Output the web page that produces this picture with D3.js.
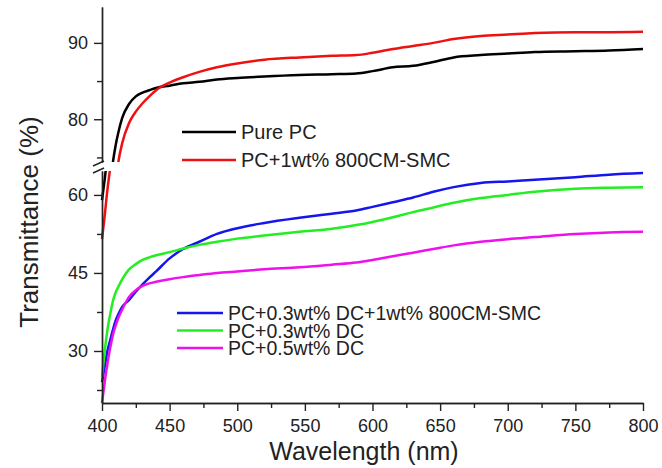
<!DOCTYPE html>
<html>
<head>
<meta charset="utf-8">
<script src="https://cdn.jsdelivr.net/npm/d3@7"></script>
<style>
  body { margin: 0; background: #fff; }
  svg { display: block; font-family: "Liberation Sans", Arial, sans-serif; }
  .axis path, .axis line { stroke: #222; stroke-width: 1.4px; }
  .axis text { fill: #222; font-size: 18px; font-family: "Liberation Sans", Arial, sans-serif; }
  .curve { fill: none; stroke-width: 2.5px; stroke-linejoin: round; }
</style>
</head>
<body>
<div id="chart"></div>
<script>
// wavelength samples (nm)
const wavelength = [400, 402, 404, 406, 408, 410, 412, 415, 420, 425, 430, 435, 440, 450, 460, 472, 485,
  500, 520, 546, 570, 588, 600, 615, 630, 645, 660, 680, 700, 720, 750, 775, 800];

// transmittance (%) per sample
const purePC = [59, 63, 67.5, 71.5, 74.3, 76.5, 78.2, 80.2, 82, 83, 83.5, 83.8, 84.1, 84.4, 84.7, 84.9, 85.2,
  85.4, 85.6, 85.8, 85.9, 86.0, 86.3, 86.8, 87.0, 87.5, 88.1, 88.4, 88.6, 88.8, 88.9, 89.0, 89.2];
const pcSmc = [51.5, 56, 61, 65, 68.5, 71.5, 74.3, 76.9, 79.5, 81.0, 82.1, 83.0, 83.8, 84.8, 85.5, 86.2, 86.8,
  87.3, 87.8, 88.1, 88.3, 88.4, 88.7, 89.2, 89.6, 90.0, 90.5, 90.9, 91.1, 91.3, 91.4, 91.4, 91.45];
const pcDcSmc = [24, 27, 30, 32, 34, 35.8, 37, 38.5, 39.8, 41.4, 42.8, 44.1, 45.3, 47.8, 49.6, 51, 52.5,
  53.6, 54.6, 55.6, 56.4, 57.0, 57.7, 58.6, 59.5, 60.6, 61.5, 62.3, 62.6, 62.9, 63.4, 63.9, 64.2];
const pcDc03 = [25, 30, 34, 37, 39.5, 41.2, 42.3, 43.8, 45.7, 46.7, 47.5, 48, 48.4, 49, 49.7, 50.4, 51,
  51.6, 52.2, 52.9, 53.5, 54.2, 54.8, 55.7, 56.7, 57.6, 58.5, 59.4, 60, 60.6, 61.2, 61.4, 61.5];
const pcDc05 = [20, 24, 27.5, 30.5, 33, 34.8, 36.3, 38, 40.4, 41.7, 42.5, 43, 43.3, 43.8, 44.2, 44.6, 45,
  45.3, 45.7, 46.1, 46.6, 47.0, 47.5, 48.2, 48.9, 49.6, 50.3, 51, 51.5, 51.9, 52.5, 52.8, 52.9];

const xTicks = [400, 450, 500, 550, 600, 650, 700, 750, 800];
const yUpperTicks = [80, 90];
const yLowerTicks = [30, 45, 60];

const upperSeries = [
  { name: "Pure PC", color: "#000000", values: purePC },
  { name: "PC+1wt% 800CM-SMC", color: "#ee1111", values: pcSmc }
];
const lowerSeries = [
  { name: "PC+0.3wt% DC+1wt% 800CM-SMC", color: "#1515ee", values: pcDcSmc },
  { name: "PC+0.3wt% DC", color: "#22ee22", values: pcDc03 },
  { name: "PC+0.5wt% DC", color: "#ee11ee", values: pcDc05 }
];
const allSeries = upperSeries.concat(lowerSeries);

const width = 662, height = 468;
const left = 102, right = 643;
const upTop = 7, upBottom = 162;    // upper segment of the broken axis
const loTop = 171, loBottom = 403;  // lower segment

const svg = d3.select("#chart").append("svg")
  .attr("width", width)
  .attr("height", height);

const x = d3.scaleLinear().domain([400, 800]).range([left, right]);
const yUp = d3.scaleLinear().domain([74.4, 94.7]).range([upBottom, upTop]);
const yLo = d3.scaleLinear().domain([20, 64.6]).range([loBottom, loTop]);

const defs = svg.append("defs");
defs.append("clipPath").attr("id", "clip-up")
  .append("rect").attr("x", left - 2).attr("y", upTop).attr("width", right - left + 8).attr("height", upBottom - upTop);
defs.append("clipPath").attr("id", "clip-lo")
  .append("rect").attr("x", left - 2).attr("y", loTop).attr("width", right - left + 8).attr("height", loBottom - loTop);

// draw every curve in both segments, each clipped to its own band
function drawCurves(scale, clipId) {
  const line = d3.line()
    .x((d, i) => x(wavelength[i]))
    .y(d => scale(d))
    .curve(d3.curveMonotoneX);
  svg.append("g")
    .attr("clip-path", `url(#${clipId})`)
    .selectAll("path")
    .data(allSeries)
    .join("path")
    .attr("class", "curve")
    .attr("stroke", d => d.color)
    .attr("d", d => line(d.values));
}
drawCurves(yUp, "clip-up");
drawCurves(yLo, "clip-lo");

// x axis with minor ticks
const xMinor = d3.range(425, 800, 50);
svg.append("g").attr("class", "axis")
  .attr("transform", `translate(0,${loBottom})`)
  .call(d3.axisBottom(x).tickValues(xMinor).tickSize(5).tickSizeOuter(0).tickFormat(""));
svg.append("g").attr("class", "axis")
  .attr("transform", `translate(0,${loBottom})`)
  .call(d3.axisBottom(x).tickValues(xTicks).tickSize(8).tickSizeOuter(0).tickPadding(8).tickFormat(d3.format("d")));

// upper y segment
svg.append("g").attr("class", "axis")
  .attr("transform", `translate(${left},0)`)
  .call(d3.axisLeft(yUp).tickValues([75, 85]).tickSize(5).tickSizeOuter(0).tickFormat(""));
svg.append("g").attr("class", "axis")
  .attr("transform", `translate(${left},0)`)
  .call(d3.axisLeft(yUp).tickValues(yUpperTicks).tickSize(8).tickSizeOuter(0).tickPadding(6));

// lower y segment
svg.append("g").attr("class", "axis")
  .attr("transform", `translate(${left},0)`)
  .call(d3.axisLeft(yLo).tickValues([22.5, 37.5, 52.5]).tickSize(5).tickSizeOuter(0).tickFormat(""));
svg.append("g").attr("class", "axis")
  .attr("transform", `translate(${left},0)`)
  .call(d3.axisLeft(yLo).tickValues(yLowerTicks).tickSize(8).tickSizeOuter(0).tickPadding(6));

// break marks
[upBottom + 1, loTop - 1].forEach(yy => {
  svg.append("line")
    .attr("x1", left - 9).attr("y1", yy + 3)
    .attr("x2", left + 2).attr("y2", yy - 2)
    .attr("stroke", "#222").attr("stroke-width", 1.4);
});

// axis titles
svg.append("text")
  .attr("x", 364).attr("y", 460)
  .attr("text-anchor", "middle")
  .style("font-size", "25px").style("fill", "#222")
  .text("Wavelength (nm)");

svg.append("text")
  .attr("transform", "translate(38,222) rotate(-90)")
  .attr("text-anchor", "middle")
  .style("font-size", "26px").style("fill", "#222")
  .text("Transmittance (%)");

// legends
function legend(series, x0, x1, y0, step, fs) {
  const g = svg.append("g");
  series.forEach((s, i) => {
    const yy = y0 + i * step;
    g.append("line")
      .attr("x1", x0).attr("x2", x1).attr("y1", yy).attr("y2", yy)
      .attr("stroke", s.color).attr("stroke-width", 2.5);
    g.append("text")
      .attr("x", x1 + 5).attr("y", yy + 7)
      .style("font-size", fs + "px").style("fill", "#222")
      .text(s.name);
  });
}
legend(upperSeries, 182, 236, 132, 28, 20);
legend(lowerSeries, 177, 223, 313, 17.5, 19.5);
</script>
</body>
</html>
